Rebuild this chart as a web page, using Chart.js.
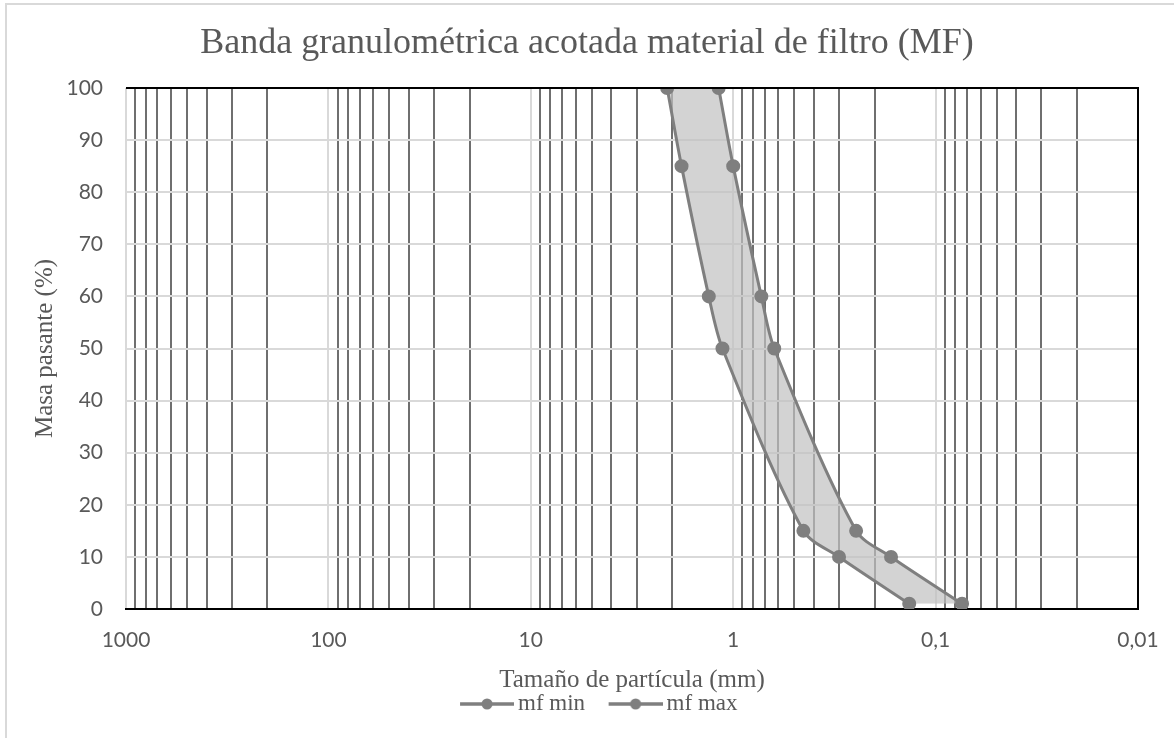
<!DOCTYPE html>
<html>
<head>
<meta charset="utf-8">
<script src="https://cdn.jsdelivr.net/npm/chart.js@4.4.1/dist/chart.umd.min.js"></script>
<style>
  html, body { margin: 0; padding: 0; background: #fff; }
  #wrap { position: relative; width: 1174px; height: 738px; overflow: hidden; }
  #marco { position: absolute; left: 5px; top: 3px; width: 1300px; height: 800px;
           border-top: 2px solid #d9d9d9; border-left: 2px solid #d9d9d9; pointer-events: none; }
</style>
</head>
<body>
<div id="wrap">
  <canvas id="grafico" width="1174" height="738"></canvas>
  <div id="marco"></div>
</div>
<script>
// % que pasa
const pasa = [100, 85, 60, 50, 15, 10, 1];
// tamaño (mm) de cada curva
const mfMin = [2.12, 1.80, 1.32, 1.13, 0.45, 0.30, 0.135];
const mfMax = [1.18, 1.00, 0.726, 0.627, 0.247, 0.166, 0.074];

const decadas = [1000, 100, 10, 1, 0.1, 0.01];
const etiquetasX = ['1000', '100', '10', '1', '0,1', '0,01'];

// ticks de la escala log: decadas + multiplos 2..9
const ticksX = [];
decadas.forEach(function (d) {
    ticksX.push(d);
    if (d > 0.01) {
        for (let k = 9; k >= 2; k--) ticksX.push(+(k * d / 10).toPrecision(3));
    }
});

const gris = '#7f7f7f';
const textoGris = '#595959';

function puntos(xs) {
    return xs.map(function (v, i) { return { x: v, y: pasa[i] }; });
}

function esDecada(v) {
    return decadas.some(function (d) { return Math.abs(d - v) < d * 1e-6; });
}

// simbolo de leyenda: linea con punto
const simbolo = document.createElement('canvas');
simbolo.width = 85;
simbolo.height = 14;
(function () {
    const c = simbolo.getContext('2d');
    c.strokeStyle = gris;
    c.lineWidth = 3.5;
    c.beginPath();
    c.moveTo(31, 7);
    c.lineTo(85, 7);
    c.stroke();
    c.fillStyle = gris;
    c.beginPath();
    c.arc(58, 7, 5.5, 0, Math.PI * 2);
    c.fill();
})();

// borde negro arriba y a la derecha del area
const marcoPlugin = {
    id: 'marco',
    afterDraw(chart) {
        const a = chart.chartArea;
        const ctx = chart.ctx;
        ctx.save();
        ctx.strokeStyle = '#000';
        ctx.lineWidth = 2;
        ctx.beginPath();
        ctx.moveTo(a.left, a.top);
        ctx.lineTo(a.right, a.top);
        ctx.lineTo(a.right, a.bottom);
        ctx.stroke();
        ctx.restore();
    }
};

const config = {
    type: 'line',
    data: {
        datasets: [{
            label: 'mf min',
            data: puntos(mfMin),
            borderColor: gris,
            backgroundColor: gris,
            pointBackgroundColor: gris,
            pointBorderColor: gris,
            borderWidth: 3,
            pointRadius: 5.5,
            tension: 0.3,
            fill: false
        }, {
            label: 'mf max',
            data: puntos(mfMax),
            borderColor: gris,
            backgroundColor: 'rgba(192,192,192,0.7)',
            pointBackgroundColor: gris,
            pointBorderColor: gris,
            borderWidth: 3,
            pointRadius: 5.5,
            tension: 0.3,
            fill: '-1'
        }]
    },
    options: {
        responsive: false,
        animation: false,
        indexAxis: 'y',
        layout: { padding: { left: 0, right: 0, top: 0, bottom: 12.5 } },
        scales: {
            x: {
                type: 'logarithmic',
                reverse: true,
                min: 0.01,
                max: 1000,
                afterBuildTicks: function (scale) {
                    scale.ticks = ticksX.map(function (v) { return { value: v, major: false }; });
                },
                afterFit: function (scale) {
                    scale.height = 83.5;
                    scale.paddingLeft = 0;
                    scale.paddingRight = 0;
                },
                ticks: {
                    autoSkip: false,
                    maxRotation: 0,
                    padding: 19,
                    color: textoGris,
                    font: { family: 'Lato', size: 21 },
                    callback: function (value) {
                        const i = decadas.findIndex(function (d) { return Math.abs(d - value) < d * 1e-6; });
                        return i >= 0 ? etiquetasX[i] : '';
                    }
                },
                grid: {
                    drawTicks: false,
                    lineWidth: 2,
                    color: function (ctx) {
                        if (!ctx.tick) return '#d9d9d9';
                        return esDecada(ctx.tick.value) ? '#d9d9d9' : '#6f6f6f';
                    }
                },
                border: { display: true, color: '#000', width: 2 },
                title: {
                    display: true,
                    text: 'Tamaño de partícula (mm)',
                    color: textoGris,
                    padding: { top: 0, bottom: -2.5 },
                    font: { family: 'Liberation Serif', size: 25 }
                }
            },
            y: {
                type: 'linear',
                min: 0,
                max: 100,
                afterFit: function (scale) { scale.width = 126; },
                ticks: {
                    stepSize: 10,
                    padding: 23,
                    color: textoGris,
                    font: { family: 'Lato', size: 21 }
                },
                grid: {
                    drawTicks: false,
                    lineWidth: 2,
                    color: '#d9d9d9'
                },
                border: { display: false },
                title: {
                    display: true,
                    text: 'Masa pasante (%)',
                    color: textoGris,
                    padding: { top: 30, bottom: 0 },
                    font: { family: 'Liberation Serif', size: 25 }
                }
            },
            // espacio vacio a la derecha del grafico
            yDer: {
                type: 'linear',
                position: 'right',
                min: 0,
                max: 1,
                afterFit: function (scale) { scale.width = 36; },
                ticks: { display: false },
                grid: { display: false },
                border: { display: false }
            }
        },
        plugins: {
            title: {
                display: true,
                text: 'Banda granulométrica acotada material de filtro (MF)',
                color: textoGris,
                padding: { top: 22.4, bottom: 22.4 },
                font: { family: 'Liberation Serif', size: 36, weight: 'normal' }
            },
            legend: {
                position: 'bottom',
                labels: {
                    usePointStyle: true,
                    pointStyle: simbolo,
                    pointStyleWidth: 70,
                    padding: 0,
                    color: textoGris,
                    font: { family: 'Liberation Serif', size: 23 }
                }
            },
            tooltip: { enabled: false }
        }
    },
    plugins: [marcoPlugin]
};

const graficoBanda = new Chart(document.getElementById('grafico'), config);
</script>
</body>
</html>
